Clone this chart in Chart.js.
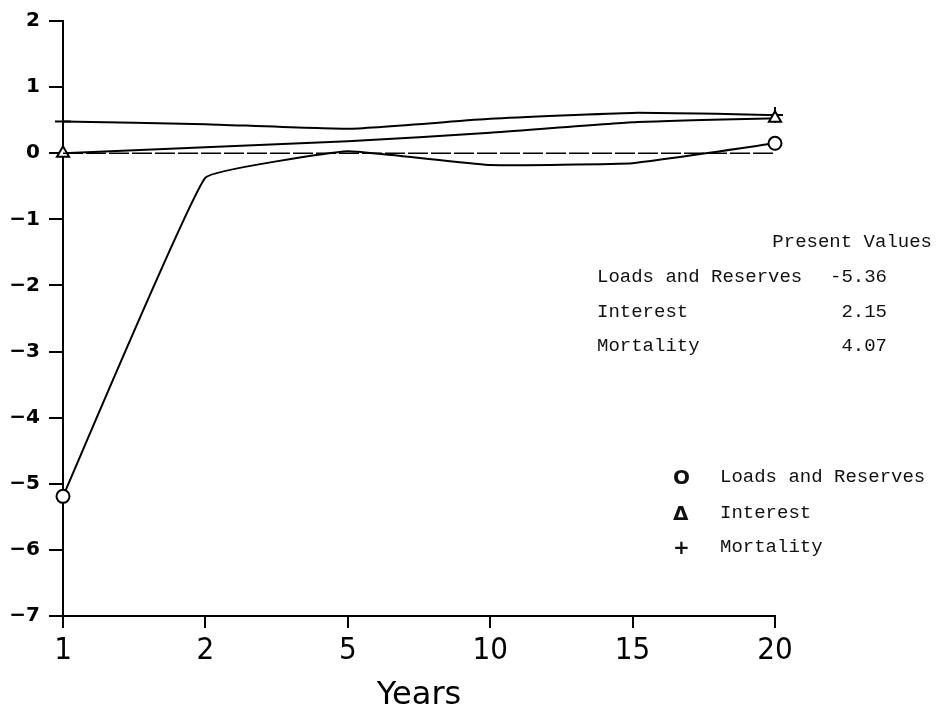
<!DOCTYPE html>
<html>
<head>
<meta charset="utf-8">
<script src="https://cdn.jsdelivr.net/npm/chart.js@4.4.1/dist/chart.umd.min.js"></script>
<style>
  body { margin: 0; background: #fff; }
  #wrap { position: relative; width: 939px; height: 715px; }
  .t { position: absolute; font-family: "Liberation Mono", "DejaVu Sans Mono", monospace; font-size: 19px; line-height: 22px; color: #111; white-space: pre; }
  .sym { font-weight: bold; font-family: "DejaVu Sans", sans-serif; font-size: 20px; }
</style>
</head>
<body>
<div id="wrap">
  <canvas id="grafico" width="939" height="715"></canvas>

  <div class="t" style="right:7px; top:231px;">Present Values</div>
  <div class="t" style="left:597px; top:266px;">Loads and Reserves</div>
  <div class="t" style="right:52px; top:266px;">-5.36</div>
  <div class="t" style="left:597px; top:301px;">Interest</div>
  <div class="t" style="right:52px; top:301px;">2.15</div>
  <div class="t" style="left:597px; top:335px;">Mortality</div>
  <div class="t" style="right:52px; top:335px;">4.07</div>

  <div class="t sym" style="left:673px; top:466px;">O</div>
  <div class="t" style="left:720px; top:466px;">Loads and Reserves</div>
  <div class="t sym" style="left:673px; top:502px;">&#916;</div>
  <div class="t" style="left:720px; top:502px;">Interest</div>
  <div class="t sym" style="left:673px; top:536px;">+</div>
  <div class="t" style="left:720px; top:536px;">Mortality</div>
</div>

<script>
// valores
const anos = ["1", "2", "5", "10", "15", "20"];
const cargasReservas = [-5.19, -0.37, 0.03, -0.18, -0.15, 0.15];
const juros = [0.0, 0.09, 0.18, 0.31, 0.47, 0.53];
const mortalidade = [0.48, 0.44, 0.37, 0.52, 0.61, 0.58];
const linhaZero = [0, 0, 0, 0, 0, 0];

// marcador so no primeiro e no ultimo ponto
const soPontas = (r) => anos.map((a, i) => (i === 0 || i === anos.length - 1) ? r : 0);

let grafico = new Chart(document.getElementById("grafico"), {
    type: 'line',
    data: {
        labels: anos,
        datasets: [
            {
                label: "Zero",
                data: linhaZero,
                borderColor: "#000",
                borderWidth: 1.6,
                borderDash: [20, 3],
                pointRadius: 0
            },
            {
                label: "Loads and Reserves",
                data: cargasReservas,
                borderColor: "#000",
                backgroundColor: "#fff",
                borderWidth: 2,
                tension: 0.08,
                pointStyle: 'circle',
                pointRadius: soPontas(6.5),
                pointBorderWidth: 2
            },
            {
                label: "Interest",
                data: juros,
                borderColor: "#000",
                backgroundColor: "#fff",
                borderWidth: 2,
                tension: 0.15,
                pointStyle: 'triangle',
                pointRadius: soPontas(7),
                pointBorderWidth: 2
            },
            {
                label: "Mortality",
                data: mortalidade,
                borderColor: "#000",
                backgroundColor: "#fff",
                borderWidth: 2,
                tension: 0.15,
                pointStyle: 'cross',
                pointRadius: soPontas(8),
                pointBorderWidth: 2
            }
        ]
    },
    options: {
        responsive: false,
        animation: false,
        layout: {
            padding: { top: 13, right: 164, left: 0, bottom: 0 }
        },
        plugins: {
            legend: { display: false },
            tooltip: { enabled: false }
        },
        scales: {
            x: {
                offset: false,
                grid: {
                    drawOnChartArea: false,
                    color: "#000",
                    lineWidth: 2,
                    tickLength: 12
                },
                border: { color: "#000", width: 2 },
                ticks: {
                    color: "#000",
                    padding: 4,
                    maxRotation: 0,
                    font: { family: "'DejaVu Sans Condensed', 'DejaVu Sans'", size: 31 }
                },
                title: {
                    display: true,
                    text: "Years",
                    color: "#000",
                    padding: { top: 0, bottom: 0 },
                    font: { family: "'DejaVu Sans'", size: 32 }
                },
                afterFit: (s) => { s.height = 99; }
            },
            y: {
                min: -7,
                max: 2,
                grid: {
                    drawOnChartArea: false,
                    color: "#000",
                    lineWidth: 2,
                    tickLength: 14
                },
                border: { color: "#000", width: 2 },
                ticks: {
                    stepSize: 1,
                    color: "#000",
                    padding: 9,
                    font: { family: "'DejaVu Sans'", size: 20, weight: 'bold' },
                    callback: (v) => String(v).replace('-', '\u2212')
                },
                afterFit: (s) => { s.width = 63; }
            }
        }
    }
});
</script>
</body>
</html>
